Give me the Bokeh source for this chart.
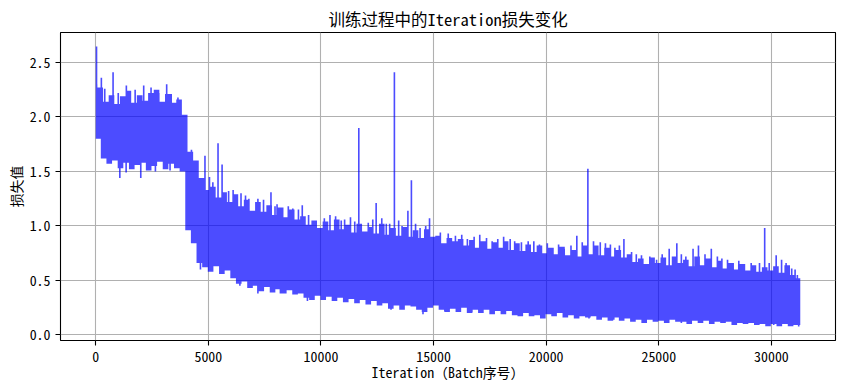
from bokeh.plotting import figure
from bokeh.models import Range1d, FixedTicker
from bokeh.embed import file_html
from bokeh.resources import INLINE

# ---- data ----
title_text = "训练过程中的Iteration损失变化"
x_label = "Iteration（Batch序号）"
y_label = "损失值"

first_iter = 0
last_iter = 31280
start_top = 2.30      # top of the band over the first iterations
start_bottom = 1.80   # bottom of the band over the first iterations

# ragged top edge of the loss band, one reading every 250 iterations from 200
top_edge_iters = list(range(200, 31201, 250))
top_edge_values = [
    2.27, 2.14, 2.20, 2.12,
    2.19, 2.24, 2.13, 2.20,
    2.15, 2.22, 2.25, 2.14,
    2.21, 2.13, 2.16, 2.02,
    1.68, 1.60, 1.44, 1.33,
    1.36, 1.26, 1.31, 1.22,
    1.29, 1.18, 1.24, 1.14,
    1.22, 1.13, 1.19, 1.10,
    1.17, 1.08, 1.15, 1.06,
    1.09, 1.01, 1.05, 0.98,
    1.04, 0.96, 1.06, 0.97,
    1.01, 0.94, 1.02, 0.95,
    0.99, 0.93, 1.02, 0.92,
    0.98, 0.91, 0.99, 0.90,
    0.96, 0.89, 0.97, 0.90,
    0.91, 0.84, 0.89, 0.86,
    0.88, 0.82, 0.87, 0.80,
    0.86, 0.79, 0.85, 0.80,
    0.86, 0.78, 0.84, 0.77,
    0.83, 0.76, 0.82, 0.75,
    0.80, 0.74, 0.81, 0.73,
    0.78, 0.72, 0.82, 0.74,
    0.82, 0.73, 0.80, 0.72,
    0.78, 0.71, 0.74, 0.67,
    0.70, 0.65, 0.71, 0.66,
    0.71, 0.64, 0.72, 0.66,
    0.69, 0.63, 0.72, 0.64,
    0.70, 0.62, 0.68, 0.61,
    0.66, 0.60, 0.65, 0.59,
    0.64, 0.58, 0.62, 0.59,
    0.63, 0.57, 0.64, 0.55,
    0.52]

# ragged bottom edge of the loss band, one reading every 250 iterations from 350
bottom_edge_iters = list(range(350, 31101, 250))
bottom_edge_values = [
    1.62, 1.57, 1.60,
    1.53, 1.58, 1.52, 1.56,
    1.58, 1.51, 1.55, 1.59,
    1.52, 1.57, 1.53, 1.50,
    0.96, 0.84, 0.66, 0.62,
    0.58, 0.63, 0.56, 0.59,
    0.52, 0.47, 0.49, 0.43,
    0.45, 0.40, 0.44, 0.39,
    0.42, 0.38, 0.41, 0.37,
    0.38, 0.34, 0.32, 0.36,
    0.32, 0.35, 0.31, 0.34,
    0.30, 0.33, 0.29, 0.32,
    0.28, 0.31, 0.27, 0.29,
    0.24, 0.27, 0.23, 0.27,
    0.26, 0.23, 0.21, 0.25,
    0.27, 0.23, 0.21, 0.24,
    0.21, 0.25, 0.20, 0.23,
    0.20, 0.23, 0.19, 0.22,
    0.19, 0.22, 0.18, 0.17,
    0.20, 0.17, 0.18, 0.15,
    0.19, 0.17, 0.20, 0.16,
    0.18, 0.15, 0.17, 0.16,
    0.17, 0.14, 0.16, 0.13,
    0.16, 0.13, 0.15, 0.12,
    0.14, 0.11, 0.14, 0.12,
    0.13, 0.11, 0.14, 0.12,
    0.12, 0.10, 0.13, 0.11,
    0.13, 0.10, 0.12, 0.11,
    0.12, 0.09, 0.11, 0.10,
    0.11, 0.09, 0.10, 0.08,
    0.10, 0.08, 0.10, 0.08,
    0.09]

# individual upward spikes (iteration, loss)
peak_iters = [35, 250, 400, 770, 1000, 1360, 1750, 2130, 2456, 2800, 3150, 3350, 3650,
              4250, 4850, 5050, 5200, 5430, 5610, 5900, 6100, 6450, 6650, 6800, 7200,
              7450, 7780, 7960, 8050, 8300, 8550, 8750, 9000, 9170, 9450, 9700, 10150,
              10400, 10650, 10900, 11050, 11310, 11500, 11680, 12100, 12300, 12450,
              12700, 12900, 13050, 13260, 13450, 13600, 13860, 14015, 14200, 14400,
              14650, 14820, 15300, 15650, 15970, 16250, 16500, 16800, 17050, 17350,
              17600, 17850, 18110, 18400, 18600, 18900, 19200, 19450, 19700, 20050,
              20300, 20550, 20800, 21100, 21360, 21600, 21850, 22100, 22400, 22630,
              22850, 23050, 23250, 23450, 23790, 24000, 24230, 24600, 24900, 25150,
              25460, 25800, 26000, 26200, 26520, 26760, 27050, 27330, 27600, 27800,
              28050, 28300, 28550, 28800, 29100, 29470, 29700, 29900, 30210, 30450,
              30650, 30900, 31050, 31150]
peak_values = [2.647, 2.36, 2.26, 2.41, 2.22, 2.29, 2.25, 2.29, 2.27, 2.22, 2.30, 2.21, 2.18,
               1.70, 1.645, 1.45, 1.40, 1.76, 1.565, 1.32, 1.33, 1.30, 1.28, 1.25, 1.25,
               1.24, 1.31, 1.18, 1.20, 1.17, 1.18, 1.16, 1.15, 1.19, 1.10, 1.05, 1.07,
               1.10, 1.09, 1.05, 1.06, 1.08, 1.04, 1.90, 1.03, 1.06, 1.21,
               1.07, 1.02, 1.02, 2.41, 1.05, 1.00, 1.14, 1.42, 1.02, 0.98,
               1.00, 1.07, 0.94, 0.93, 0.91, 0.92, 0.88, 0.90, 0.92, 0.89,
               0.86, 0.88, 0.90, 0.88, 0.86, 0.85, 0.86, 0.86, 0.83, 0.84,
               0.80, 0.83, 0.79, 0.82, 0.91, 0.85, 1.525, 0.86, 0.85, 0.84,
               0.83, 0.80, 0.82, 0.88, 0.76, 0.74, 0.73, 0.72, 0.69, 0.74,
               0.79, 0.84, 0.74, 0.72, 0.79, 0.82, 0.74, 0.79, 0.72, 0.70,
               0.69, 0.66, 0.68, 0.65, 0.66, 0.66, 0.98, 0.66, 0.73, 0.69,
               0.66, 0.61, 0.60, 0.55]

# individual downward dips (iteration, loss)
dip_iters = [1070, 1350, 2000, 2650, 3300, 4650, 6400, 7200, 8200, 9400, 10600, 12080,
             13110, 13600, 14530, 15500, 16700, 18910, 19810, 21900, 23000, 24270,
             26000, 28300, 30100, 31210]
dip_values = [1.44, 1.49, 1.44, 1.50, 1.51, 0.60, 0.45, 0.38, 0.38, 0.31, 0.31, 0.29,
              0.23, 0.23, 0.19, 0.22, 0.21, 0.17, 0.15, 0.15, 0.14, 0.12,
              0.11, 0.10, 0.09, 0.077]

x_ticks = [0, 5000, 10000, 15000, 20000, 25000, 30000]
x_tick_labels = ["0", "5000", "10000", "15000", "20000", "25000", "30000"]
y_ticks = [0.0, 0.5, 1.0, 1.5, 2.0, 2.5]
y_tick_labels = ["0.0", "0.5", "1.0", "1.5", "2.0", "2.5"]

# ---- one outline polygon (so the translucent fill never overlaps itself) ----
HALF_STROKE = 36   # half width of a single spike, in iterations
HALF_STEP = 125    # half spacing of the edge readings, in iterations


def edge(step_x, step_v, start_v, spike_x, spike_v, take_top):
    cols = []
    first_left = step_x[0] - HALF_STEP
    if first_left > first_iter:
        cols.append((first_iter, first_left, start_v))
    for c, v in zip(step_x, step_v):
        cols.append((max(c - HALF_STEP, first_iter), min(c + HALF_STEP, last_iter), v))
    last_right = step_x[-1] + HALF_STEP
    if last_right < last_iter:
        cols.append((last_right, last_iter, step_v[-1]))
    spikes = [(max(sx - HALF_STROKE, first_iter), min(sx + HALF_STROKE, last_iter), sv)
              for sx, sv in zip(spike_x, spike_v)]
    every = cols + spikes
    bps = sorted({first_iter, last_iter} | {b for c in every for b in c[:2]})
    pick = max if take_top else min
    xs, ys = [], []
    for a, b in zip(bps[:-1], bps[1:]):
        m = 0.5 * (a + b)
        hs = [h for l, r, h in every if l <= m < r]
        h = pick(hs)
        xs += [a, b]
        ys += [h, h]
    return xs, ys


ux, uy = edge(top_edge_iters, top_edge_values, start_top, peak_iters, peak_values, True)
lx, ly = edge(bottom_edge_iters, bottom_edge_values, start_bottom, dip_iters, dip_values, False)
poly_x = ux + lx[::-1]
poly_y = uy + ly[::-1]

ymin = min(min(bottom_edge_values), min(dip_values))
ymax = max(max(top_edge_values), max(peak_values))
xm = 0.05 * (last_iter - first_iter)
ym = 0.05 * (ymax - ymin)

FONT = "'Noto Sans Mono CJK SC', 'Noto Sans CJK SC', 'DejaVu Sans Mono', monospace"

p = figure(width=843, height=390, output_backend="svg", toolbar_location=None,
           x_range=Range1d(first_iter - xm, last_iter + xm),
           y_range=Range1d(ymin - ym, ymax + ym),
           min_border_left=60, min_border_right=8, min_border_top=32, min_border_bottom=50)
p.background_fill_color = "white"
p.border_fill_color = "white"
p.outline_line_color = "black"
p.outline_line_width = 1.1

p.title.text = title_text
p.title.align = "center"
p.title.text_font = FONT
p.title.text_font_size = "16.5px"
p.title.text_font_style = "normal"
p.title.text_color = "black"
p.title.standoff = 4

p.patch(poly_x, poly_y, fill_color="blue", fill_alpha=0.7, line_alpha=0)

for ax in (p.xaxis, p.yaxis):
    ax.axis_line_color = None
    ax.major_tick_line_color = "black"
    ax.major_tick_line_width = 1.1
    ax.major_tick_in = 0
    ax.major_tick_out = 5
    ax.minor_tick_line_color = None
    ax.major_label_text_font = FONT
    ax.major_label_text_font_size = "13.9px"
    ax.major_label_text_color = "black"
    ax.major_label_standoff = 5
    ax.axis_label_text_font = FONT
    ax.axis_label_text_font_size = "13.9px"
    ax.axis_label_text_font_style = "normal"
    ax.axis_label_text_color = "black"

p.xaxis.ticker = FixedTicker(ticks=x_ticks)
p.xaxis.major_label_overrides = dict(zip(x_ticks, x_tick_labels))
p.yaxis.ticker = FixedTicker(ticks=y_ticks)
p.yaxis.major_label_overrides = dict(zip(y_ticks, y_tick_labels))
p.xaxis.axis_label = x_label
p.yaxis.axis_label = y_label
p.xaxis.axis_label_standoff = -3
p.yaxis.axis_label_standoff = 1

p.xgrid.ticker = FixedTicker(ticks=x_ticks)
p.ygrid.ticker = FixedTicker(ticks=y_ticks)
for g in (p.xgrid, p.ygrid):
    g.grid_line_color = "#b0b0b0"
    g.grid_line_width = 1.1

open("out.html", "w").write(file_html(p, INLINE))
